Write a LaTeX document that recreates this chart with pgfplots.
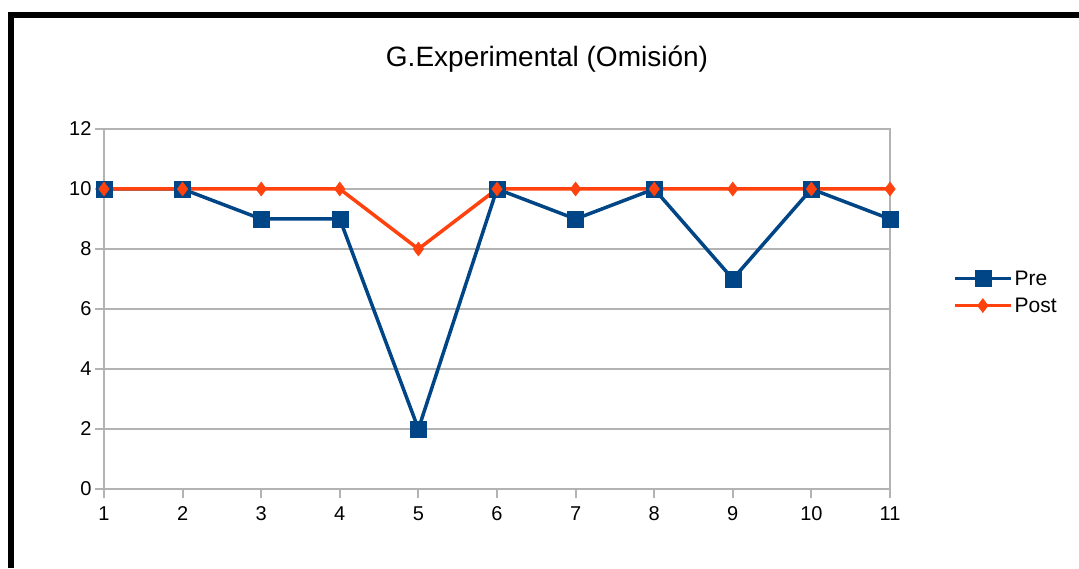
\documentclass[border=0pt]{standalone}
\usepackage{pgfplots}
\pgfplotsset{compat=1.18}
\usepackage{fontspec}
\setmainfont{Liberation Sans}
\definecolor{preblue}{HTML}{004586}
\definecolor{postred}{HTML}{FF420E}
\definecolor{gridgray}{HTML}{B3B3B3}
\begin{document}
\begin{tikzpicture}[x=1pt,y=1pt]
\path[use as bounding box] (0,0) rectangle (1079,568);
\fill[white] (0,0) rectangle (1079,568);
\draw[line width=6pt,black] (10.5,0) -- (10.5,553) -- (1079,553);
\node[anchor=base,font=\fontsize{28}{32}\selectfont] at (547,501) {G.Experimental (Omisión)};
\begin{axis}[
  at={(104pt,79pt)}, anchor=south west,
  scale only axis, width=786pt, height=360pt,
  xmin=1, xmax=11, ymin=0, ymax=12,
  xtick={1,2,...,11}, ytick={0,2,...,12},
  xtick pos=bottom, ytick pos=left,
  tick align=outside, major tick length=9pt,
  tick style={gridgray, line width=2pt},
  axis line style={gridgray, line width=2pt},
  ymajorgrids, grid style={gridgray, line width=1.2pt},
  ticklabel style={font=\fontsize{20}{24}\selectfont},
  xticklabel style={yshift=-5pt},
  /pgf/number format/assume math mode=true,
  clip=false,
  legend style={at={(1.08,0.547)}, anchor=west, draw=none, fill=none,
    font=\fontsize{21}{25}\selectfont, row sep=7pt, inner sep=0pt},
  legend cell align=left,
  legend image code/.code={\draw[mark repeat=2,mark phase=2,#1] plot coordinates {(0pt,0pt)(28pt,0pt)(56pt,0pt)};},
]
\addplot[preblue, line width=3.5pt, mark=square*, mark size=8pt, mark options={solid, line width=0.5pt}]
coordinates {(1,10)(2,10)(3,9)(4,9)(5,2)(6,10)(7,9)(8,10)(9,7)(10,10)(11,9)};
\addlegendentry{Pre}
\addplot[postred, line width=3.5pt, mark=diamond*, mark size=7pt, mark options={solid, line width=0.5pt}]
coordinates {(1,10)(2,10)(3,10)(4,10)(5,8)(6,10)(7,10)(8,10)(9,10)(10,10)(11,10)};
\addlegendentry{Post}
\end{axis}
\end{tikzpicture}
\end{document}
